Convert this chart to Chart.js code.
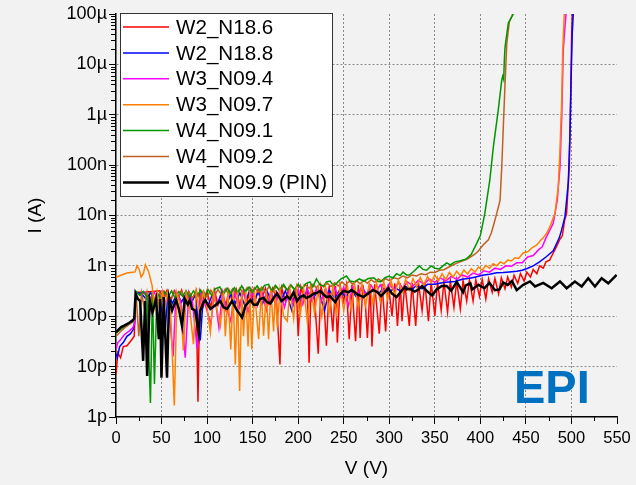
<!DOCTYPE html>
<html>
<head>
<meta charset="utf-8">
<title>EPI I-V</title>
<script src="https://cdn.jsdelivr.net/npm/chart.js@4.4.1/dist/chart.umd.min.js"></script>
<style>
  html, body { margin:0; padding:0; background:#f2f2f2; }
  #wrap { width:636px; height:485px; }
</style>
</head>
<body>
<div id="wrap"><canvas id="ivChart" width="636" height="485"></canvas></div>
<script>
/* ── I-V curves, EPI wafers ── */
const FONT = '"Liberation Sans", Arial, sans-serif';

const SERIES_LABELS = ['W2_N18.6','W2_N18.8','W3_N09.4','W3_N09.7','W4_N09.1','W4_N09.2','W4_N09.9 (PIN)'];
const SERIES_COLORS = ['#ff0000','#0000ff','#ff00ff','#ff8000','#009600','#c06020','#000000'];

const Y_TICKS = [1e-12,1e-11,1e-10,1e-9,1e-8,1e-7,1e-6,1e-5,1e-4];
const Y_TICK_LABELS = ['1p','10p','100p','1n','10n','100n','1µ','10µ','100µ'];
const X_TICK_STEP = 50;

// [V, I] pairs
const W2_N18_6 = [[0,7e-12],[2,1.9e-11],[5,1.5e-11],[8,2.5e-11],[12,2.6e-11],[16,3.2e-11],[20,4e-11],[22,3e-10],[30,3e-10],[40,3.1e-10],
  [48,3.2e-10],[52,2.4e-10],[56,3.3e-10],[60,2e-10],[64,3.2e-10],[68,2.2e-10],[72,3.3e-10],[76,1.8e-10],[80,3e-10],[84,2.1e-10],
  [88,3.2e-10],[90,2e-12],[92,3e-10],[96,1.6e-10],[100,3.2e-10],[104,1.5e-10],[108,3.3e-10],[112,1.7e-10],[116,3.2e-10],[120,1.4e-10],
  [124,3.3e-10],[128,1.9e-10],[132,3.4e-10],[136,1.6e-10],[140,3.4e-10],[144,2e-10],[148,3.5e-10],[152,1.7e-10],[156,3.5e-10],[160,2.2e-10],
  [164,3.6e-10],[168,1.8e-10],[172,3.6e-10],[176,2.3e-10],[180,1.1e-11],[182,3.6e-10],[186,2e-10],[190,3.7e-10],[194,1.9e-10],[198,3.7e-10],
  [200,4e-11],[203,3.8e-10],[207,2.2e-10],[210,3.8e-10],[212,1.2e-11],[214,3.8e-10],[218,2.4e-10],[222,1.8e-11],[225,3.9e-10],[228,2.3e-10],
  [231,2.6e-11],[234,4e-10],[238,5e-11],[241,4e-10],[243,3e-11],[246,4.1e-10],[250,2e-10],[253,4.1e-10],[256,3.5e-11],[259,4.2e-10],
  [263,3.2e-11],[266,4.2e-10],[268,3.7e-11],[271,4.2e-10],[274,1.5e-10],[276,3.7e-11],[279,4.3e-10],[281,2.5e-11],[284,4.3e-10],[289,4.5e-11],
  [292,4.4e-10],[296,5e-11],[299,4.4e-10],[303,1e-10],[306,4.5e-10],[309,6.4e-11],[312,4.5e-10],[314,8e-11],[317,4.6e-10],[322,6.4e-11],
  [325,4.6e-10],[329,6.4e-11],[332,4.7e-10],[336,1.3e-10],[339,4.7e-10],[343,8e-11],[346,4.8e-10],[350,1e-10],[353,4.8e-10],[357,1.3e-10],
  [360,4.9e-10],[364,1.2e-10],[367,5e-10],[371,1.5e-10],[374,5e-10],[378,1.4e-10],[381,5.1e-10],[385,2e-10],[388,5.2e-10],[392,2e-10],
  [395,5.3e-10],[399,2.5e-10],[402,5.4e-10],[406,2.2e-10],[409,5.5e-10],[413,3e-10],[416,5.6e-10],[420,2.8e-10],[423,5.8e-10],[427,3.5e-10],
  [430,6e-10],[434,3.8e-10],[437,6.5e-10],[441,4.5e-10],[444,7e-10],[448,5e-10],[451,7.5e-10],[455,6e-10],[458,8.5e-10],[462,7e-10],
  [465,1e-9],[469,9e-10],[472,1.2e-9],[476,1.3e-9],[480,1.8e-9],[484,2.5e-9],[487,3.3e-9],[490,4e-9],[492.5,8e-9],[494.7,1.1e-8],
  [496,3e-8],[497.6,9.3e-8],[499.1,1.95e-6],[500.2,4.2e-5],[500.9,1e-4]];

const W2_N18_8 = [[0,1.8e-11],[1.5,1.5e-11],[4,2.5e-11],[8,3e-11],[12,4e-11],[16,4.5e-11],[19,5.5e-11],[20.5,8e-11],[22,3e-10],[28,2.8e-10],
  [33,2.2e-10],[38,2.9e-10],[43,2e-10],[48,2.8e-10],[53.5,4e-11],[57,2.8e-10],[62,1.8e-10],[67,2.9e-10],[72,1.9e-10],[77,2.8e-10],
  [82,1.7e-10],[87,2.7e-10],[92.5,3.3e-11],[96,2.7e-10],[101,1.6e-10],[106,2.8e-10],[111,1.7e-10],[116,2.9e-10],[121,1.6e-10],[126,2.8e-10],
  [131,1.8e-10],[136,2.9e-10],[141,1.7e-10],[146,3e-10],[151,1.9e-10],[156,3e-10],[161,1.8e-10],[166,3.1e-10],[171,1.9e-10],[176,3.1e-10],
  [181,2e-10],[186,3.2e-10],[193,1.3e-10],[198,3.2e-10],[204,2.1e-10],[210,3.2e-10],[216,2.2e-10],[222,3.3e-10],[229,1.3e-10],[234,3.3e-10],
  [240,2.3e-10],[246,3.4e-10],[252,2.4e-10],[258,3.4e-10],[264,2.4e-10],[270,3.5e-10],[276,2.6e-10],[282,3.5e-10],[288,2.8e-10],[294,3.6e-10],
  [300,3e-10],[306,3.7e-10],[312,3.2e-10],[318,3.9e-10],[324,3.3e-10],[330,4.1e-10],[336,3.5e-10],[342,4.3e-10],[350,4.3e-10],[358,4.6e-10],
  [365,4.8e-10],[372,4.9e-10],[380,5.4e-10],[388,5.7e-10],[395,6e-10],[402,6.5e-10],[410,6.8e-10],[418,7.3e-10],[425,7.4e-10],[432,7.6e-10],
  [440,7.8e-10],[446,8.2e-10],[452,9e-10],[458,1e-9],[465,1.2e-9],[472,1.5e-9],[480,2e-9],[486.6,3.6e-9],[489,5e-9],[492.9,9.5e-9],
  [496.5,4.4e-8],[498.4,4.3e-7],[499.5,4.2e-6],[500.9,4.2e-5],[502,1e-4]];

const W3_N09_4 = [[0,2.2e-11],[2,3e-11],[5,3.4e-11],[9,4.3e-11],[14,5e-11],[18,5.8e-11],[20.5,7e-11],[22,3e-10],[27,2.6e-10],[32,3e-10],
  [37,2.2e-10],[42,3e-10],[47,1.9e-10],[52,3.1e-10],[57,2.2e-10],[62.7,1.6e-11],[66,3e-10],[71,2e-10],[76,1.5e-11],[80,3e-10],
  [84,1.9e-10],[89,2.3e-11],[93,3e-10],[98,1.7e-10],[104,7e-11],[108,2.9e-10],[113,6e-11],[117,3e-10],[121,1.5e-10],[126,8e-11],
  [130,3e-10],[135,1.4e-10],[140,3.1e-10],[145,1.2e-10],[150,3.1e-10],[155,1.6e-10],[160,3.2e-10],[165,1.3e-10],[170,3.2e-10],[175,1.7e-10],
  [180,3.3e-10],[185,1.5e-10],[190,3.3e-10],[195,1.8e-10],[200,3.4e-10],[205,1.7e-10],[210,3.5e-10],[215,2e-10],[220,3.5e-10],[225,1.9e-10],
  [230,3.6e-10],[235,2.2e-10],[240,3.7e-10],[245,2.2e-10],[250,3.8e-10],[255,1.6e-10],[260,3.9e-10],[265,2.6e-10],[270,4e-10],[275,2.7e-10],
  [280,4.1e-10],[285,2.9e-10],[290,4.2e-10],[295,3.1e-10],[300,4.4e-10],[305,3.3e-10],[310,4.6e-10],[315,3.6e-10],[320,4.8e-10],[326,4e-10],
  [332,5.2e-10],[338,4.3e-10],[344,5.5e-10],[350,4.7e-10],[356,5.8e-10],[362,5e-10],[368,6.2e-10],[374,5.4e-10],[380,6.6e-10],[386,6e-10],
  [392,7.2e-10],[398,6.6e-10],[404,8e-10],[410,7.5e-10],[416,9e-10],[422,8.5e-10],[428,1e-9],[434,9.8e-10],[440,1.15e-9],[446,1.15e-9],
  [452,1.5e-9],[458,1.6e-9],[464,2.1e-9],[468,2.4e-9],[472,3.6e-9],[476,5e-9],[480,7e-9],[484.4,2e-8],[487.4,9.3e-8],[489.3,9e-7],
  [491,1.95e-5],[494,1e-4]];

const W3_N09_7 = [[0,5.9e-10],[6,6.6e-10],[12,7.2e-10],[18,7.5e-10],[21,7.6e-10],[23,1e-9],[25.5,8.5e-10],[27.6,6e-10],[30,7e-10],[32.3,1.05e-9],
  [36,7.5e-10],[39.7,4e-10],[42,1.5e-10],[45,3e-10],[48,1.3e-10],[51,3.1e-10],[54,1.8e-10],[57,3e-10],[60,1.2e-10],[64,1.7e-12],
  [67,2.9e-10],[71,1.5e-10],[74,2.1e-11],[77,2.9e-10],[81,1.4e-10],[85,2.8e-11],[88,3e-10],[92,1.2e-10],[96,3e-10],[100,1.5e-10],
  [103.6,4.8e-11],[107,3e-10],[111,1.3e-10],[114.6,6.4e-11],[118,3e-10],[120,4e-11],[123,3e-10],[126,2.2e-11],[128.5,3e-10],[131,1.1e-11],
  [133.5,3.1e-10],[135.7,3.3e-12],[138,3.1e-10],[140,4e-11],[142.5,3.1e-10],[145,2.5e-11],[147,3.1e-10],[149,2.2e-11],[152,3.2e-10],[156.6,3.5e-11],
  [159.5,3.2e-10],[162,4.1e-11],[165,3.2e-10],[167.5,3.5e-11],[170,3.3e-10],[173,5e-11],[175,3.3e-10],[177,6e-11],[180,3.3e-10],[184,1e-10],
  [188,8e-11],[191,3.4e-10],[195,9e-11],[198,3.5e-10],[202,1e-10],[206,3.5e-10],[210,8e-11],[214,3.6e-10],[218,1.1e-10],[222,3.7e-10],
  [226,1e-10],[230,3.7e-10],[234,1.2e-10],[238,3.8e-10],[242,1.1e-10],[246,3.9e-10],[250,1.3e-10],[254,4e-10],[258,1.4e-10],[262,4.2e-10],
  [266,1.5e-10],[270,4.3e-10],[274,1.6e-10],[278,4.5e-10],[282,1.8e-10],[286,4.6e-10],[290,2e-10],[294,4.8e-10],[298,2.2e-10],[302,5e-10],
  [306,2.6e-10],[310,5.2e-10],[314,3e-10],[318,5.4e-10],[322,3.3e-10],[326,5.6e-10],[330,3.8e-10],[334,5.9e-10],[338,4.2e-10],[342,6.2e-10],
  [346,4.6e-10],[350,6.6e-10],[354,5e-10],[358,7e-10],[362,5.4e-10],[366,7.4e-10],[370,6e-10],[374,7.8e-10],[378,6.4e-10],[382,8.3e-10],
  [386,6.9e-10],[390,8.8e-10],[394,7.5e-10],[398,9.5e-10],[402,8.2e-10],[406,1.02e-9],[410,9e-10],[414,1.1e-9],[418,1e-9],[422,1.2e-9],
  [426,1.1e-9],[430,1.3e-9],[434,1.25e-9],[438,1.45e-9],[442,1.4e-9],[447,1.8e-9],[452,1.9e-9],[457,2.3e-9],[462,2.6e-9],[466,3.2e-9],
  [469,3.6e-9],[473,4.5e-9],[476.4,6e-9],[479,8e-9],[481.9,1.1e-8],[485.5,3.7e-8],[487.4,2e-7],[489.3,1.95e-6],[490.4,1.9e-5],[492.1,1e-4]];

const W4_N09_1 = [[0,4.7e-11],[5,5.5e-11],[10,6.5e-11],[15,7.5e-11],[19,8e-11],[20.5,1e-10],[22,3.1e-10],[26,2.6e-10],[30,3.1e-10],[34,2.4e-10],
  [37.8,1.9e-12],[40,3e-10],[42.2,4.5e-12],[45,3e-10],[49,2.2e-10],[53,3.1e-10],[57,2.4e-10],[61,3.2e-10],[65,2.3e-10],[69,3.1e-10],
  [73,2.5e-10],[77,3.2e-10],[81,2.4e-10],[85,3.2e-10],[89,2.5e-10],[93,3.3e-10],[97,2.4e-10],[101,3.4e-10],[105,2.6e-10],[109,3.5e-10],
  [114,3.8e-10],[118,2.7e-10],[122,3.6e-10],[126,2.8e-10],[130,3.7e-10],[134,2.9e-10],[138,4e-10],[142,3e-10],[146,3.8e-10],[150,3e-10],
  [155,4e-10],[159,3.1e-10],[163,4.1e-10],[167.5,4.3e-10],[171,3.2e-10],[175,4.1e-10],[179,3.3e-10],[184,4.3e-10],[188,3.3e-10],[192,4.2e-10],
  [196,3.4e-10],[200,4.3e-10],[204,3.5e-10],[208,4.4e-10],[213,4.8e-10],[216,3.8e-10],[220,5.5e-10],[224,4.2e-10],[228,4e-10],[231,4.8e-10],
  [235,5e-10],[239,4e-10],[242,4.5e-10],[247,5.5e-10],[253,6.3e-10],[257,5e-10],[262,4.8e-10],[267,5.5e-10],[272,5e-10],[277,5.6e-10],
  [283,5.8e-10],[287,5e-10],[290,4.8e-10],[295,5.8e-10],[299,6.2e-10],[304,5.8e-10],[308,7e-10],[312,6.4e-10],[315,7.5e-10],[319,6.6e-10],
  [322,6.6e-10],[327,7.8e-10],[333,1e-9],[337,8.5e-10],[341,8.2e-10],[346,1e-9],[350,9e-10],[355,8.7e-10],[359,1e-9],[363,1.15e-9],
  [367,1.05e-9],[372,1.2e-9],[377,1.25e-9],[384,1.35e-9],[390,1.7e-9],[396,2.8e-9],[400,4e-9],[404.9,1.1e-8],[410.4,5.1e-8],[414.3,2.34e-7],
  [419.7,1.26e-6],[423.5,4.9e-6],[424.5,5.8e-6],[425.6,5e-6],[426.3,1.2e-5],[427.1,2.2e-5],[430.7,6.6e-5],[436.2,1e-4]];

const W4_N09_2 = [[0,4e-11],[5,5e-11],[10,6e-11],[15,7e-11],[19,7.8e-11],[20.5,9.5e-11],[22,2.8e-10],[25,4e-11],[28,2.9e-10],[31,1.5e-10],
  [34,3e-10],[37,1.2e-10],[40,2.9e-10],[44,1.8e-10],[48,3e-10],[52,2.1e-10],[56,3e-10],[60,2.2e-10],[64,3e-10],[68,2.3e-10],
  [72,3.1e-10],[76,2.2e-10],[80,3.1e-10],[84,2.3e-10],[88,3.2e-10],[92,2.2e-10],[96,3.2e-10],[100,2.4e-10],[104,3.3e-10],[108,2.5e-10],
  [112,3.4e-10],[116,2.6e-10],[120,3.5e-10],[124,2.7e-10],[128,3.5e-10],[132,2.8e-10],[136,3.6e-10],[140,2.8e-10],[144,3.7e-10],[148,2.9e-10],
  [152,3.7e-10],[156,3e-10],[160,3.8e-10],[164,3e-10],[168,3.9e-10],[172,3.1e-10],[176,3.9e-10],[180,3.2e-10],[184,4e-10],[188,3.3e-10],
  [192,4e-10],[196,3.4e-10],[200,4.1e-10],[204,3.5e-10],[208,4.2e-10],[212,3.6e-10],[216,4.3e-10],[220,3.7e-10],[224,4.4e-10],[228,3.8e-10],
  [232,4.5e-10],[236,3.9e-10],[240,4.6e-10],[244,4e-10],[248,4.8e-10],[252,4.1e-10],[256,5e-10],[260,4.3e-10],[264,5.1e-10],[268,4.4e-10],
  [272,5.2e-10],[276,4.5e-10],[280,5.3e-10],[284,4.7e-10],[288,5.5e-10],[292,4.9e-10],[296,5.6e-10],[300,5.1e-10],[305,5.8e-10],[310,5.5e-10],
  [315,6.3e-10],[320,5.8e-10],[325,6.6e-10],[330,6.3e-10],[335,7e-10],[340,6.7e-10],[345,7.5e-10],[350,7.4e-10],[355,8.2e-10],[360,8.4e-10],
  [365,9.4e-10],[370,1.05e-9],[375,1.15e-9],[380,1.25e-9],[385,1.35e-9],[389,1.5e-9],[394,1.7e-9],[398,2e-9],[403,2.6e-9],[408.8,3.3e-9],
  [412,4.5e-9],[414,6e-9],[418,1.1e-8],[421.6,2e-8],[423.5,9.3e-8],[425.2,5.8e-7],[427.1,4.2e-6],[429,2.6e-5],[431.8,7e-5],[434.4,8.9e-5],
  [435.5,1e-4]];

const W4_N09_9 = [[0,4.8e-11],[3,5.5e-11],[6,6.2e-11],[9,6.5e-11],[12,7e-11],[15,7.5e-11],[18,8.2e-11],[20,9e-11],[21.5,2.8e-10],[24,2.2e-10],
  [26.5,2e-10],[29.8,1.3e-11],[32,2e-10],[34.2,6.5e-12],[37,2.1e-10],[40,1.2e-10],[44,2.2e-10],[47,3.5e-11],[48.5,2.2e-10],[49.9,6e-12],
  [52.4,2.4e-10],[56,6e-12],[58.3,2.3e-10],[61.6,1.3e-10],[64,1.7e-10],[66,2.1e-10],[69,1.4e-10],[72.5,6.4e-11],[75.5,2.2e-10],[78.8,1.7e-10],
  [81,2.1e-10],[83.5,1.4e-10],[87,1.3e-10],[90.8,4.6e-11],[92.6,1.3e-10],[95.5,1.8e-10],[98,2.1e-10],[103.6,1.4e-10],[108,1.6e-10],[114.6,2e-10],
  [118,1.5e-10],[122,1.4e-10],[127.4,2e-10],[133,1.3e-10],[138.4,9.5e-11],[142,1.6e-10],[147.5,2.1e-10],[151,1.7e-10],[155,1.7e-10],[158,2.2e-10],
  [162,2.3e-10],[166,1.9e-10],[169.4,1.8e-10],[173,2.3e-10],[176.8,2.8e-10],[182,2e-10],[187.7,2.5e-10],[191,2.2e-10],[195,3e-10],[198.7,2e-10],
  [202,2.4e-10],[206,2.6e-10],[209,2.3e-10],[213,2.5e-10],[217,2.8e-10],[220.6,2.9e-10],[224,3.2e-10],[228,2.7e-10],[231,2.4e-10],[235,2.5e-10],
  [240.7,1.9e-10],[245,2.6e-10],[250,3.2e-10],[255,3e-10],[259,3.3e-10],[265,2.7e-10],[271.7,2.4e-10],[277,2.9e-10],[282.7,3.3e-10],[287,3e-10],
  [291,2.5e-10],[295,3e-10],[299,3.6e-10],[303,2.8e-10],[308,2.4e-10],[313,3.1e-10],[317,3.8e-10],[319,3.4e-10],[323,3.5e-10],[328,3.1e-10],
  [332,3.4e-10],[336,4e-10],[341,3.2e-10],[347,2.6e-10],[352,3.4e-10],[357.7,4e-10],[363,4e-10],[368,3.2e-10],[374,4.8e-10],[381,3e-10],
  [384,4.1e-10],[389,4.5e-10],[391,3.4e-10],[398,4.2e-10],[404.5,3.6e-10],[410,4.6e-10],[416,3.3e-10],[421,3.4e-10],[425,4.7e-10],[430,4.2e-10],
  [434.6,5e-10],[439.9,3.3e-10],[447.1,4.2e-10],[454.5,4.9e-10],[460,3.9e-10],[469,4.6e-10],[478.3,3.6e-10],[487.4,4.9e-10],[494.7,3.6e-10],[503.8,4.9e-10],
  [511.2,3.9e-10],[518.4,5.7e-10],[525.8,3.9e-10],[533.1,5.7e-10],[540.4,4.5e-10],[549.6,6.6e-10]];

const SERIES_DATA = [W2_N18_6, W2_N18_8, W3_N09_4, W3_N09_7, W4_N09_1, W4_N09_2, W4_N09_9];
const SERIES_WIDTH = [1.5,1.5,1.5,1.5,1.5,1.5,2.5];
const SERIES_ORDER = [6,5,4,1,2,3,0];   // black on top, red underneath

/* ── plugins: legend box, minor ticks, EPI tag ── */
const legendBox = {
  id:'legendBox',
  afterDatasetsDraw(chart) {
    const {ctx, chartArea:{left, top}} = chart;
    const x0 = left + 4, y0 = top - 1, w = 212, h = 183;
    ctx.save();
    ctx.fillStyle = '#ffffff';
    ctx.fillRect(x0, y0, w, h);
    ctx.strokeStyle = '#333'; ctx.lineWidth = 1;
    ctx.strokeRect(x0 + .5, y0 + .5, w, h);
    ctx.font = `20.6px ${FONT}`;
    ctx.textBaseline = 'middle';
    chart.data.datasets.forEach((ds, i) => {
      const y = y0 + 14 + i * 25.9;
      ctx.strokeStyle = ds.borderColor; ctx.lineWidth = ds.borderWidth;
      ctx.beginPath(); ctx.moveTo(x0 + 3, y); ctx.lineTo(x0 + 49, y); ctx.stroke();
      ctx.fillStyle = '#000';
      ctx.fillText(ds.label, x0 + 56, y + 1);
    });
    ctx.restore();
  }
};

const minorTicks = {
  id:'minorTicks',
  afterDraw(chart) {
    const {ctx, scales:{x, y}} = chart;
    ctx.save();
    ctx.strokeStyle = '#000'; ctx.lineWidth = 1;
    ctx.beginPath();
    for (let e = -12; e < -4; e++) for (let k = 2; k < 10; k++) {
      const py = Math.round(y.getPixelForValue(k * Math.pow(10, e))) + .5;
      ctx.moveTo(y.right - 5, py); ctx.lineTo(y.right, py);
    }
    for (let v = X_TICK_STEP / 2; v < 550; v += X_TICK_STEP) {
      const px = Math.round(x.getPixelForValue(v)) + .5;
      ctx.moveTo(px, x.top); ctx.lineTo(px, x.top + 4);
    }
    ctx.stroke();
    ctx.restore();
  }
};

const epiTag = {
  id:'epiTag',
  afterDraw(chart) {
    const {ctx, chartArea:{right, bottom}} = chart;
    ctx.save();
    ctx.font = `bold 47px ${FONT}`;
    ctx.fillStyle = '#0070c0';
    ctx.textBaseline = 'alphabetic';
    ctx.fillText('EPI', right - 103, bottom - 14);
    ctx.restore();
  }
};

const edgeless = c => {
  if (!c.tick) return '#8a8a8a';
  const n = c.scale.ticks.length;
  return (c.index === 0 || c.index === n - 1) ? 'rgba(0,0,0,0)' : '#8a8a8a';
};

function buildIvChart() {
  const ctx = document.getElementById('ivChart').getContext('2d');
  new Chart(ctx, {
    type:'line',
    data:{
      datasets: SERIES_LABELS.map((label, i) => ({
        label,
        data: SERIES_DATA[i].map(p => ({x:p[0], y:p[1]})),
        borderColor: SERIES_COLORS[i], backgroundColor: SERIES_COLORS[i],
        borderWidth: SERIES_WIDTH[i], pointRadius:0, tension:0, fill:false,
        order: SERIES_ORDER[i]
      }))
    },
    options:{
      responsive:false, animation:false,
      layout:{ padding:{ top:14, right:19, left:0, bottom:0 } },
      plugins:{ legend:{display:false}, tooltip:{enabled:false} },
      scales:{
        x:{
          type:'linear', min:0, max:550,
          ticks:{ stepSize:X_TICK_STEP, color:'#000', font:{family:FONT, size:16.5}, padding:5, maxRotation:0 },
          grid:{ color:edgeless, tickColor:'#000', tickLength:7, lineWidth:1 },
          border:{ color:'#000', width:1.5, dash:[2,2] },
          title:{ display:true, text:'V (V)', color:'#000', font:{family:FONT, size:19}, padding:{top:0, bottom:5} },
          afterFit: s => { s.height = 68; }
        },
        y:{
          type:'logarithmic', min:1e-12, max:1e-4,
          afterBuildTicks: s => { s.ticks = Y_TICKS.map(v => ({value:v})); },
          ticks:{ callback:(v, i) => Y_TICK_LABELS[i], color:'#000', font:{family:FONT, size:18}, padding:2, autoSkip:false },
          grid:{ color:edgeless, tickColor:'#000', tickLength:7, lineWidth:1 },
          border:{ color:'#000', width:1.5, dash:[2,2] },
          title:{ display:true, text:'I (A)', color:'#000', font:{family:FONT, size:19}, padding:{top:24, bottom:0} },
          afterFit: s => { s.width = 116; }
        }
      }
    },
    plugins:[legendBox, minorTicks, epiTag]
  });
}

window.addEventListener('DOMContentLoaded', buildIvChart);
</script>
</body>
</html>
